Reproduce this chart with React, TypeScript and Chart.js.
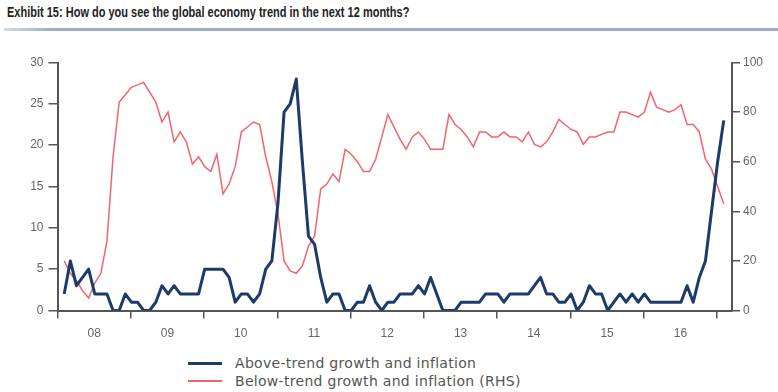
import React, { useEffect, useRef } from 'react';
import { Chart, registerables } from 'chart.js';

Chart.register(...registerables);

const TITLE = 'Exhibit 15: How do you see the global economy trend in the next 12 months?';

// Year labels (each label sits in the middle of its year)
const yearLabels = ['08', '09', '10', '11', '12', '13', '14', '15', '16'];

// Left axis ticks (%), right axis ticks (%)
const leftMax = 30;
const leftStep = 5;
const rightMax = 100;
const rightStep = 20;

// Monthly survey readings, starting early 2008
const aboveTrend = [
  2, 6, 3, 4, 5, 2, 2, 2, 0, 0, 2, 1, 1, 0, 0, 1, 3, 2, 3, 2,
  2, 2, 2, 5, 5, 5, 5, 4, 1, 2, 2, 1, 2, 5, 6, 13, 24, 25, 28, 18,
  9, 8, 4, 1, 2, 2, 0, 0, 1, 1, 3, 1, 0, 1, 1, 2, 2, 2, 3, 2,
  4, 2, 0, 0, 0, 1, 1, 1, 1, 2, 2, 2, 1, 2, 2, 2, 2, 3, 4, 2,
  2, 1, 1, 2, 0, 1, 3, 2, 2, 0, 1, 2, 1, 2, 1, 2, 1, 1, 1, 1,
  1, 1, 3, 1, 4, 6, 12, 18, 23,
];

const belowTrend = [
  20, 15, 12, 8, 5, 11, 15, 28, 62, 84, 87, 90, 91, 92, 88, 84, 76, 80, 68, 72,
  68, 59, 62, 58, 56, 63, 47, 51, 58, 72, 74, 76, 75, 62, 52, 39, 20, 16, 15, 18,
  26, 30, 49, 51, 55, 52, 65, 63, 60, 56, 56, 61, 70, 79, 74, 69, 65, 70, 72, 69,
  65, 65, 65, 79, 75, 73, 70, 66, 72, 72, 70, 70, 72, 70, 70, 68, 72, 67, 66, 68,
  72, 77, 75, 73, 72, 67, 70, 70, 71, 72, 72, 80, 80, 79, 78, 80, 88, 82, 81, 80,
  81, 83, 75, 75, 72, 61, 57, 50, 43,
];

const SERIES_ABOVE = 'Above-trend growth and inflation';
const SERIES_BELOW = 'Below-trend growth and inflation (RHS)';

const BLUE = '#1c3a6a';
const RED = '#f0646c';
const AXIS = '#555555';
const TICK_TEXT = '#666666';

const MONTHS_PER_YEAR = 12;
const FIRST_POINT_OFFSET = 1.1; // first reading sits just after the start of 2008
const X_MAX = 110.45;

export default function App() {
  const canvasRef = useRef<HTMLCanvasElement | null>(null);

  useEffect(() => {
    const canvas = canvasRef.current;
    if (!canvas) return;

    const toPoints = (arr: number[]) =>
      arr.map((v, i) => ({ x: i + FIRST_POINT_OFFSET, y: v }));

    const yearTickValues = yearLabels.map((_, k) => k * MONTHS_PER_YEAR + MONTHS_PER_YEAR / 2);

    const tickFont = { family: '"Liberation Sans", Arial, sans-serif', size: 12 };

    const chart = new Chart(canvas, {
      type: 'line',
      data: {
        datasets: [
          {
            label: SERIES_ABOVE,
            data: toPoints(aboveTrend),
            borderColor: BLUE,
            borderWidth: 3,
            pointRadius: 0,
            tension: 0,
            yAxisID: 'y',
            borderJoinStyle: 'round',
          },
          {
            label: SERIES_BELOW,
            data: toPoints(belowTrend),
            borderColor: RED,
            borderWidth: 1.5,
            pointRadius: 0,
            tension: 0,
            yAxisID: 'y2',
          },
        ],
      },
      options: {
        responsive: false,
        animation: false,
        layout: { padding: { top: 22.5, left: 0, right: 0, bottom: 0 } },
        plugins: {
          legend: { display: false },
          tooltip: { enabled: false },
          title: { display: false },
        },
        scales: {
          x: {
            type: 'linear',
            min: 0,
            max: X_MAX,
            afterBuildTicks: (scale: any) => {
              scale.ticks = yearTickValues.map((v) => ({ value: v }));
            },
            afterFit: (scale: any) => {
              scale.height = 34.5;
            },
            grid: {
              display: true,
              offset: true,
              drawOnChartArea: false,
              drawTicks: true,
              tickLength: 8,
              color: AXIS,
              lineWidth: 1.5,
            },
            border: { display: true, color: AXIS, width: 2 },
            ticks: {
              autoSkip: false,
              maxRotation: 0,
              minRotation: 0,
              padding: 8,
              color: TICK_TEXT,
              font: tickFont,
              callback: (_v: any, index: number) => yearLabels[index],
            },
          },
          y: {
            type: 'linear',
            position: 'left',
            min: 0,
            max: leftMax,
            afterFit: (scale: any) => {
              scale.width = 57.5;
            },
            grid: {
              display: true,
              drawOnChartArea: false,
              drawTicks: true,
              tickLength: 9,
              color: AXIS,
              lineWidth: 1.5,
            },
            border: { display: true, color: AXIS, width: 2 },
            ticks: {
              stepSize: leftStep,
              padding: 5,
              color: TICK_TEXT,
              font: tickFont,
            },
          },
          y2: {
            type: 'linear',
            position: 'right',
            min: 0,
            max: rightMax,
            afterFit: (scale: any) => {
              scale.width = 46;
            },
            grid: {
              display: true,
              drawOnChartArea: false,
              drawTicks: true,
              tickLength: 8,
              color: AXIS,
              lineWidth: 1.5,
            },
            border: { display: true, color: AXIS, width: 2 },
            ticks: {
              stepSize: rightStep,
              padding: 3,
              color: TICK_TEXT,
              font: tickFont,
            },
          },
        },
      },
    } as any);

    return () => chart.destroy();
  }, []);

  const legendText: React.CSSProperties = {
    position: 'absolute',
    left: 235,
    fontFamily: '"DejaVu Sans", Verdana, sans-serif',
    fontSize: 14,
    letterSpacing: 0.3,
    color: '#555',
    whiteSpace: 'nowrap',
    lineHeight: '16px',
  };

  return (
    <div
      style={{
        position: 'absolute',
        left: 0,
        top: 0,
        width: 778,
        height: 392,
        background: '#ffffff',
        overflow: 'hidden',
      }}
    >
      <div
        style={{
          position: 'absolute',
          left: 7,
          top: 4,
          fontFamily: '"Liberation Sans Narrow", "Arial Narrow", "Liberation Sans", sans-serif',
          fontWeight: 'bold',
          fontSize: 15.5,
          lineHeight: '16px',
          color: '#222',
          whiteSpace: 'nowrap',
          transform: 'scaleX(0.71)',
          transformOrigin: '0 0',
        }}
      >
        {TITLE}
      </div>
      <div
        style={{
          position: 'absolute',
          left: 4,
          top: 28,
          width: 774,
          height: 3,
          background: 'linear-gradient(to right, #d6dae8 0%, #a3abcc 6%, #a3abcc 100%)',
        }}
      />
      <canvas
        ref={canvasRef}
        width={778}
        height={305}
        style={{ position: 'absolute', left: 0, top: 40, width: 778, height: 305, display: 'block' }}
      />
      <div style={{ position: 'absolute', left: 188, top: 362, width: 34, height: 3, background: BLUE }} />
      <div style={{ position: 'absolute', left: 188, top: 380, width: 34, height: 2, background: RED }} />
      <div style={{ ...legendText, top: 355 }}>{SERIES_ABOVE}</div>
      <div style={{ ...legendText, top: 373 }}>{SERIES_BELOW}</div>
    </div>
  );
}
